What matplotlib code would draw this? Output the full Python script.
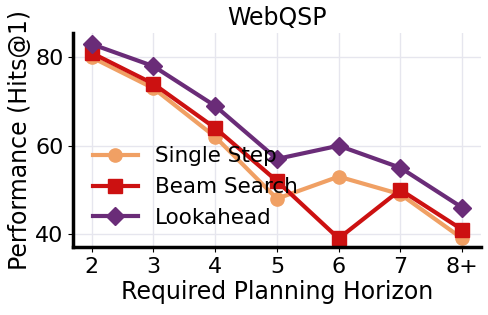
import matplotlib.pyplot as plt

horizons = ["2", "3", "4", "5", "6", "7", "8+"]
single_step = [80, 73, 62, 48, 53, 49, 39]
beam_search = [81, 74, 64, 52, 39, 50, 41]
lookahead = [83, 78, 69, 57, 60, 55, 46]

fig, ax = plt.subplots(figsize=(4.88, 3.15), dpi=100)

x = list(range(len(horizons)))
ax.plot(x, single_step, marker='o', color='#F0A064', lw=3, ms=9.5, label='Single Step')
ax.plot(x, beam_search, marker='s', color='#CC1111', lw=3, ms=9.5, label='Beam Search')
ax.plot(x, lookahead, marker='D', color='#6A2C78', lw=3, ms=9.5, label='Lookahead')

ax.set_xticks(x)
ax.set_xticklabels(horizons)
ax.set_yticks([40, 60, 80])
ax.set_ylim(37, 85.5)
ax.tick_params(labelsize=16)
ax.set_xlabel("Required Planning Horizon", fontsize=17, labelpad=2)
ax.set_ylabel("Performance (Hits@1)", fontsize=17, labelpad=2)
ax.set_title("WebQSP", fontsize=17)
ax.grid(True, color='#E6E6EE', lw=1)
ax.set_axisbelow(True)

for s in ['top', 'right']:
    ax.spines[s].set_visible(False)
for s in ['left', 'bottom']:
    ax.spines[s].set_linewidth(2.5)

ax.legend(loc='lower left', bbox_to_anchor=(0.0, 0.0), frameon=False, fontsize=15.5,
          handlelength=2.1, labelspacing=0.5)

fig.subplots_adjust(left=0.15, right=0.985, top=0.895, bottom=0.215)
fig.savefig("out.png")
